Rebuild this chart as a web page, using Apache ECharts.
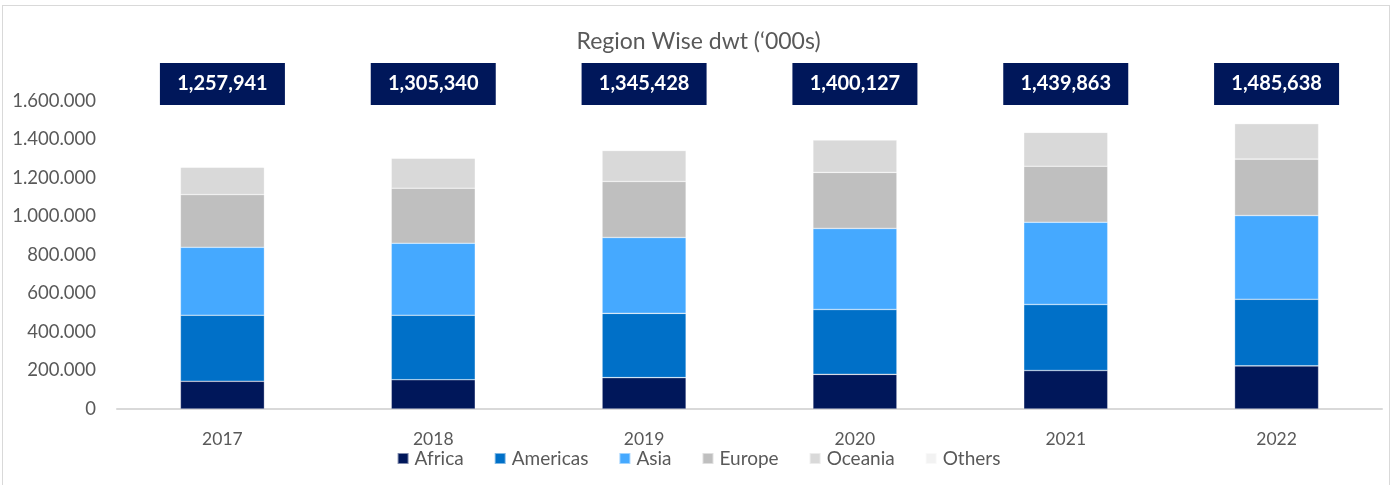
<!DOCTYPE html>
<html>
<head>
<meta charset="utf-8">
<script src="https://cdn.jsdelivr.net/npm/echarts@6/dist/echarts.min.js"></script>
<style>
  html, body { margin: 0; padding: 0; background: #fff; }
  #frame {
    position: absolute; left: 2px; top: 5px; width: 1388px; height: 485px;
    border: 1px solid #d9d9d9; box-sizing: border-box;
  }
  #chart { position: absolute; left: 0; top: 0; width: 1397px; height: 485px; }
</style>
</head>
<body>
<div id="frame"></div>
<div id="chart"></div>
<script>
// data (dwt in '000s)
const years = ['2017', '2018', '2019', '2020', '2021', '2022']
const totals = [1257941, 1305340, 1345428, 1400127, 1439863, 1485638]

const africa   = [144000, 152000, 163000, 180000, 200000, 224000]
const americas = [343000, 335000, 334000, 337000, 343000, 346000]
const asia     = [353000, 374000, 394000, 421000, 427000, 435000]
const europe   = [274000, 286000, 291000, 291000, 291000, 293000]
const oceania  = [142000, 156000, 161000, 169000, 176000, 184000]
const others   = [1900, 2300, 2400, 2100, 2900, 3600]

const yTicks = { min: 0, max: 1600000, interval: 200000 }

const regions = [
  { name: 'Africa',   data: africa,   color: '#00175a' },
  { name: 'Americas', data: americas, color: '#0070c8' },
  { name: 'Asia',     data: asia,     color: '#45a9ff' },
  { name: 'Europe',   data: europe,   color: '#bfbfbf' },
  { name: 'Oceania',  data: oceania,  color: '#d9d9d9' },
  { name: 'Others',   data: others,   color: '#f2f2f2' }
]

const font = 'Lato, "Open Sans", sans-serif'
const dotted = (v) => String(v).replace(/\B(?=(\d{3})+(?!\d))/g, '.')
const comma = (v) => String(v).replace(/\B(?=(\d{3})+(?!\d))/g, ',')

const chart = echarts.init(document.getElementById('chart'))

chart.setOption({
  animation: false,
  textStyle: { fontFamily: font },
  title: {
    text: 'Region Wise dwt (\u2018000s)',
    left: 'center',
    top: 25,
    textStyle: { fontFamily: font, fontSize: 23, fontWeight: 'normal', color: '#595959' }
  },
  legend: {
    bottom: 12,
    left: 'center',
    icon: 'rect',
    itemWidth: 11,
    itemHeight: 11,
    itemGap: 30,
    textStyle: { fontFamily: font, fontSize: 19, color: '#595959', padding: [0, 0, 0, 1] },
    data: regions.map(r => r.name)
  },
  grid: { left: 117, right: 15, top: 101, bottom: 76 },
  xAxis: [
    {
      type: 'category',
      data: years,
      axisLine: { lineStyle: { color: '#d9d9d9', width: 2 } },
      axisTick: { show: false },
      axisLabel: { fontFamily: font, fontSize: 17.5, color: '#595959', margin: 21 }
    },
    {
      type: 'category',
      position: 'top',
      data: totals.map(comma),
      axisLine: { show: false },
      axisTick: { show: false },
      axisLabel: {
        margin: -4,
        formatter: (v) => '{box|' + v + '}',
        rich: {
          box: {
            backgroundColor: '#00175a',
            color: '#fff',
            fontFamily: font,
            fontWeight: 'bold',
            fontSize: 20,
            width: 125,
            height: 42,
            lineHeight: 42,
            align: 'center'
          }
        }
      }
    }
  ],
  yAxis: {
    type: 'value',
    min: yTicks.min,
    max: yTicks.max,
    interval: yTicks.interval,
    axisLine: { show: false },
    axisTick: { show: false },
    splitLine: { show: false },
    axisLabel: {
      fontFamily: font, fontSize: 18.5, color: '#595959', margin: 21,
      formatter: dotted
    }
  },
  series: regions.map(r => ({
    name: r.name,
    type: 'bar',
    stack: 'dwt',
    barWidth: 84,
    data: r.data,
    itemStyle: { color: r.color, borderColor: 'rgba(255,255,255,0.5)', borderWidth: 0.6 }
  }))
})
</script>
</body>
</html>
